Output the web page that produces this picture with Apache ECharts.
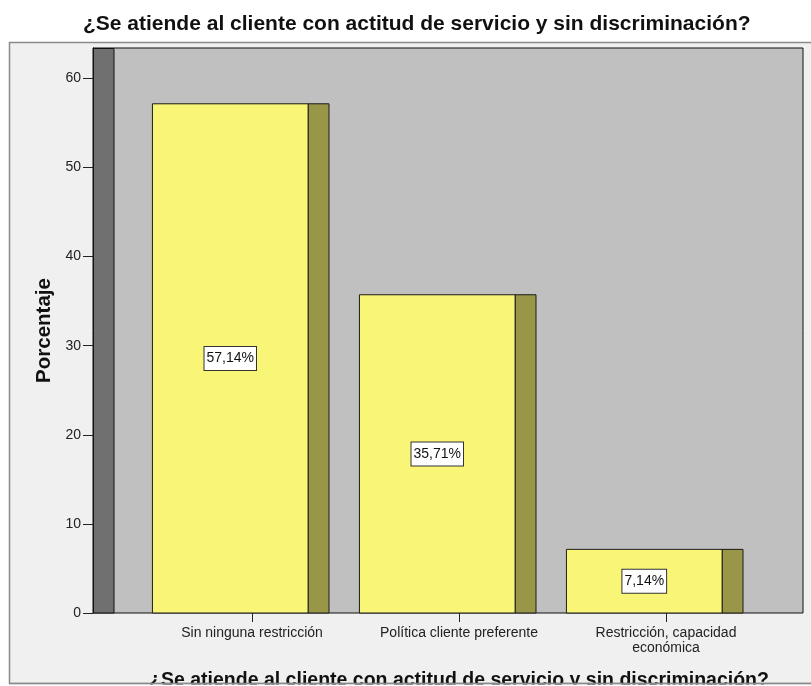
<!DOCTYPE html>
<html>
<head>
<meta charset="utf-8">
<script src="https://cdn.jsdelivr.net/npm/echarts@6/dist/echarts.min.js"></script>
<style>
  html, body { margin: 0; padding: 0; background: #ffffff; }
  #chart { width: 811px; height: 686px; }
</style>
</head>
<body>
<div id="chart"></div>
<script>
// Survey question and answer categories
const chartTitle = '¿Se atiende al cliente con actitud de servicio y sin discriminación?';
const categories = ['Sin ninguna restricción', 'Política cliente preferente', 'Restricción, capacidad\neconómica'];
// Percentage of respondents per answer
const percentages = [57.14, 35.71, 7.14];
// Y axis ticks
const yTicks = [0, 10, 20, 30, 40, 50, 60];

const FONT = '"Liberation Sans", Arial, sans-serif';
const yMax = 63.4;

function pctLabel(v) {
  return v.toFixed(2).replace('.', ',') + '%';
}

// Each bar: a yellow front face plus an olive side face for the 3D look
function renderBar(params, api) {
  const i = api.value(0);
  const v = api.value(1);
  const top = api.coord([i, v]);
  const base = api.coord([i, 0]);
  const w = api.size([1, 0])[0];
  const x0 = top[0] - 0.481 * w;
  const x1 = top[0] + 0.271 * w;
  const x2 = top[0] + 0.372 * w;
  const h = base[1] - top[1];
  return {
    type: 'group',
    children: [
      {
        type: 'rect',
        shape: { x: x1, y: top[1], width: x2 - x1, height: h },
        style: { fill: '#9a9648', stroke: '#1a1a1a', lineWidth: 1 }
      },
      {
        type: 'rect',
        shape: { x: x0, y: top[1], width: x1 - x0, height: h },
        style: { fill: '#f9f577', stroke: '#1a1a1a', lineWidth: 1 }
      },
      {
        type: 'text',
        x: (x0 + x1) / 2,
        y: top[1] + h / 2,
        style: {
          text: pctLabel(v),
          align: 'center',
          verticalAlign: 'middle',
          fill: '#111',
          font: '14px ' + FONT,
          backgroundColor: '#ffffff',
          borderColor: '#333',
          borderWidth: 1,
          padding: [5, 2, 4, 2]
        },
        z2: 10
      }
    ]
  };
}

const chart = echarts.init(document.getElementById('chart'), null, { renderer: 'canvas' });

chart.setOption({
  backgroundColor: '#ffffff',
  animation: false,
  title: {
    text: chartTitle,
    left: 83,
    top: 14,
    padding: 0,
    textStyle: { fontFamily: FONT, fontSize: 21, fontWeight: 'bold', color: '#111' }
  },
  graphic: [
    {
      type: 'rect', z: -10,
      shape: { x: 9.5, y: 42.5, width: 810, height: 641 },
      style: { fill: '#f0f0f0', stroke: '#8a8a8a', lineWidth: 1.5 }
    },
    {
      // back wall on the left of the plot
      type: 'rect', z: 5,
      shape: { x: 93.5, y: 48.5, width: 20.5, height: 564.5 },
      style: { fill: '#707070', stroke: '#111', lineWidth: 1 }
    },
    {
      type: 'rect', z: 50,
      shape: { x: 0, y: 684.5, width: 811, height: 3 },
      style: { fill: '#ffffff' }
    },
    {
      type: 'line', z: 51,
      shape: { x1: 9, y1: 683.5, x2: 811, y2: 683.5 },
      style: { stroke: '#8a8a8a', lineWidth: 1.5 }
    }
  ],
  grid: [
    {
      left: 93, right: 8, top: 48, bottom: 73,
      outerBoundsMode: 'none', containLabel: false,
      show: true, backgroundColor: '#c0c0c0', borderColor: '#111', borderWidth: 1
    },
    {
      left: 148.5, right: 41.5, top: 48, bottom: 73,
      outerBoundsMode: 'none', containLabel: false
    }
  ],
  xAxis: [
    { gridIndex: 0, type: 'value', min: 0, max: 1, show: false },
    {
      gridIndex: 1,
      type: 'category',
      data: categories,
      axisLine: { show: false },
      axisTick: { show: true, alignWithLabel: true, length: 9, lineStyle: { color: '#222', width: 1 } },
      axisLabel: { fontFamily: FONT, fontSize: 14, color: '#222', margin: 13, lineHeight: 15, interval: 0 },
      name: chartTitle,
      nameLocation: 'middle',
      nameGap: 58,
      nameTextStyle: { fontFamily: FONT, fontSize: 19.5, fontWeight: 'bold', color: '#111' }
    }
  ],
  yAxis: [
    {
      gridIndex: 0,
      type: 'value',
      min: yTicks[0],
      max: yMax,
      interval: yTicks[1] - yTicks[0],
      axisLine: { show: true, lineStyle: { color: '#111' } },
      axisTick: { show: true, length: 10, lineStyle: { color: '#222' } },
      axisLabel: { fontFamily: FONT, fontSize: 14, color: '#222', margin: 12, showMaxLabel: false },
      splitLine: { show: false },
      name: 'Porcentaje',
      nameLocation: 'middle',
      nameGap: 36,
      nameRotate: 90,
      nameTextStyle: { fontFamily: FONT, fontSize: 20.5, fontWeight: 'bold', color: '#111' }
    },
    { gridIndex: 1, type: 'value', min: 0, max: yMax, show: false }
  ],
  series: [
    {
      type: 'custom',
      xAxisIndex: 1,
      yAxisIndex: 1,
      z: 10,
      renderItem: renderBar,
      data: percentages.map((v, i) => [i, v])
    }
  ]
});
</script>
</body>
</html>
